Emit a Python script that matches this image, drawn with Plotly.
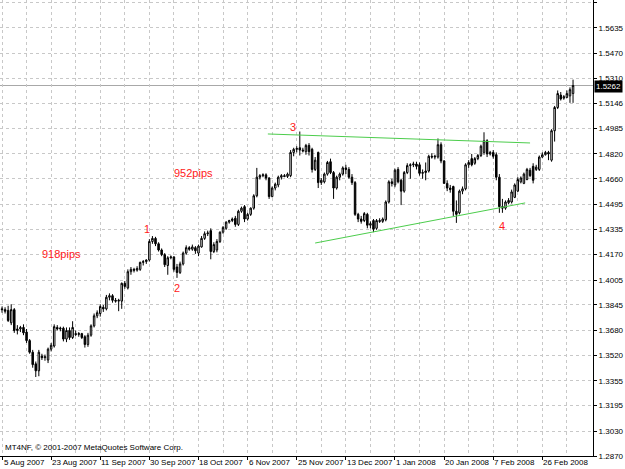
import plotly.graph_objects as go

# ---------------- data ----------------
opens = [1.3820,1.3815,1.3810,1.3730,1.3815,1.3680,1.3690,1.3700,1.3670,1.3615,
         1.3540,1.3465,1.3420,1.3515,1.3505,1.3490,1.3560,1.3580,1.3700,1.3690,
         1.3695,1.3625,1.3680,1.3635,1.3660,1.3655,1.3660,1.3640,1.3590,1.3650,
         1.3710,1.3775,1.3790,1.3830,1.3820,1.3895,1.3905,1.3875,1.3870,1.3870,
         1.3985,1.3955,1.4060,1.4075,1.4070,1.4075,1.4120,1.4125,1.4135,1.4255,
         1.4275,1.4240,1.4200,1.4170,1.4100,1.4150,1.4155,1.4090,1.4055,1.4110,
         1.4180,1.4215,1.4205,1.4215,1.4180,1.4220,1.4275,1.4305,1.4325,1.4190,
         1.4200,1.4255,1.4315,1.4340,1.4380,1.4390,1.4405,1.4365,1.4450,1.4480,
         1.4400,1.4430,1.4470,1.4550,1.4670,1.4680,1.4685,1.4665,1.4545,1.4600,
         1.4620,1.4670,1.4680,1.4675,1.4680,1.4830,1.4850,1.4860,1.4845,1.4835,
         1.4875,1.4850,1.4720,1.4830,1.4635,1.4640,1.4690,1.4770,1.4700,1.4600,
         1.4670,1.4690,1.4730,1.4720,1.4670,1.4635,1.4430,1.4400,1.4390,1.4430,
         1.4360,1.4390,1.4340,1.4390,1.4385,1.4395,1.4510,1.4640,1.4620,1.4720,
         1.4650,1.4580,1.4700,1.4745,1.4750,1.4755,1.4750,1.4695,1.4700,1.4710,
         1.4805,1.4800,1.4800,1.4880,1.4775,1.4630,1.4600,1.4610,1.4450,1.4440,
         1.4580,1.4595,1.4750,1.4790,1.4760,1.4790,1.4810,1.4830,1.4905,1.4820,
         1.4830,1.4815,1.4670,1.4480,1.4470,1.4505,1.4510,1.4540,1.4580,1.4640,
         1.4630,1.4655,1.4715,1.4740,1.4720,1.4720,1.4800,1.4815,1.4830,1.4780,
         1.4970,1.5120,1.5200,1.5180,1.5185,1.5195,1.5210]
highs = [1.3835,1.3830,1.3840,1.3850,1.3825,1.3715,1.3710,1.3720,1.3690,1.3625,
         1.3555,1.3480,1.3555,1.3530,1.3525,1.3570,1.3600,1.3720,1.3715,1.3705,
         1.3705,1.3700,1.3700,1.3740,1.3680,1.3670,1.3665,1.3650,1.3665,1.3720,
         1.3790,1.3810,1.3850,1.3845,1.3910,1.3920,1.3915,1.3890,1.3885,1.3990,
         1.4000,1.4075,1.4090,1.4085,1.4095,1.4125,1.4135,1.4140,1.4270,1.4290,
         1.4285,1.4250,1.4210,1.4180,1.4160,1.4165,1.4160,1.4110,1.4125,1.4190,
         1.4230,1.4225,1.4235,1.4225,1.4235,1.4290,1.4320,1.4325,1.4340,1.4250,
         1.4270,1.4320,1.4355,1.4385,1.4395,1.4410,1.4420,1.4460,1.4480,1.4490,
         1.4440,1.4475,1.4560,1.4730,1.4690,1.4695,1.4695,1.4670,1.4610,1.4635,
         1.4680,1.4690,1.4690,1.4700,1.4845,1.4860,1.4870,1.4965,1.4860,1.4885,
         1.4890,1.4860,1.4800,1.4835,1.4665,1.4700,1.4775,1.4790,1.4710,1.4680,
         1.4700,1.4740,1.4750,1.4735,1.4690,1.4645,1.4440,1.4420,1.4445,1.4440,
         1.4385,1.4400,1.4400,1.4405,1.4410,1.4520,1.4650,1.4660,1.4725,1.4735,
         1.4660,1.4710,1.4760,1.4760,1.4770,1.4770,1.4765,1.4720,1.4765,1.4815,
         1.4825,1.4815,1.4920,1.4895,1.4780,1.4650,1.4620,1.4615,1.4520,1.4590,
         1.4610,1.4760,1.4780,1.4820,1.4800,1.4820,1.4880,1.4960,1.4915,1.4840,
         1.4845,1.4830,1.4690,1.4530,1.4520,1.4535,1.4590,1.4630,1.4670,1.4675,
         1.4700,1.4730,1.4730,1.4760,1.4750,1.4810,1.4830,1.4840,1.4840,1.4980,
         1.5130,1.5230,1.5220,1.5200,1.5230,1.5250,1.5300]
lows = [1.3795,1.3790,1.3735,1.3715,1.3665,1.3655,1.3670,1.3650,1.3600,1.3530,
        1.3440,1.3380,1.3385,1.3490,1.3485,1.3470,1.3545,1.3570,1.3680,1.3675,
        1.3610,1.3605,1.3620,1.3625,1.3645,1.3640,1.3625,1.3570,1.3575,1.3640,
        1.3700,1.3760,1.3770,1.3800,1.3810,1.3875,1.3860,1.3860,1.3805,1.3820,
        1.3950,1.3945,1.4040,1.4055,1.4060,1.4065,1.4100,1.4110,1.4125,1.4240,
        1.4225,1.4190,1.4160,1.4090,1.4040,1.4140,1.4060,1.4020,1.4045,1.4100,
        1.4170,1.4195,1.4195,1.4175,1.4160,1.4215,1.4265,1.4290,1.4140,1.4180,
        1.4185,1.4245,1.4305,1.4330,1.4370,1.4380,1.4350,1.4355,1.4440,1.4380,
        1.4390,1.4420,1.4460,1.4540,1.4655,1.4670,1.4650,1.4530,1.4540,1.4585,
        1.4605,1.4655,1.4670,1.4665,1.4670,1.4805,1.4830,1.4810,1.4830,1.4815,
        1.4810,1.4700,1.4710,1.4600,1.4620,1.4630,1.4680,1.4690,1.4530,1.4590,
        1.4650,1.4680,1.4690,1.4660,1.4620,1.4420,1.4380,1.4370,1.4380,1.4340,
        1.4340,1.4315,1.4330,1.4375,1.4375,1.4385,1.4500,1.4610,1.4605,1.4630,
        1.4490,1.4570,1.4690,1.4660,1.4735,1.4720,1.4680,1.4660,1.4650,1.4700,
        1.4790,1.4785,1.4790,1.4760,1.4630,1.4580,1.4570,1.4420,1.4375,1.4430,
        1.4560,1.4585,1.4730,1.4740,1.4750,1.4780,1.4800,1.4815,1.4800,1.4810,
        1.4790,1.4650,1.4440,1.4440,1.4460,1.4495,1.4500,1.4535,1.4575,1.4630,
        1.4625,1.4650,1.4670,1.4630,1.4710,1.4710,1.4795,1.4810,1.4780,1.4770,
        1.4900,1.5110,1.5165,1.5170,1.5180,1.5150,1.5150]
closes = [1.3815,1.3805,1.3745,1.3815,1.3680,1.3690,1.3700,1.3665,1.3615,1.3540,
          1.3460,1.3420,1.3540,1.3505,1.3510,1.3560,1.3585,1.3705,1.3690,1.3695,
          1.3625,1.3680,1.3635,1.3700,1.3655,1.3660,1.3635,1.3590,1.3650,1.3710,
          1.3775,1.3795,1.3835,1.3820,1.3895,1.3905,1.3875,1.3870,1.3875,1.3985,
          1.3965,1.4060,1.4075,1.4070,1.4080,1.4120,1.4125,1.4135,1.4255,1.4275,
          1.4240,1.4200,1.4170,1.4105,1.4150,1.4155,1.4075,1.4055,1.4110,1.4180,
          1.4215,1.4205,1.4220,1.4195,1.4225,1.4275,1.4305,1.4310,1.4190,1.4235,
          1.4255,1.4315,1.4345,1.4380,1.4390,1.4400,1.4365,1.4450,1.4470,1.4400,
          1.4430,1.4470,1.4550,1.4670,1.4680,1.4685,1.4665,1.4545,1.4600,1.4625,
          1.4670,1.4680,1.4675,1.4690,1.4830,1.4850,1.4855,1.4845,1.4840,1.4875,
          1.4835,1.4720,1.4780,1.4635,1.4650,1.4690,1.4765,1.4700,1.4600,1.4670,
          1.4690,1.4730,1.4720,1.4670,1.4635,1.4430,1.4400,1.4385,1.4435,1.4360,
          1.4370,1.4335,1.4390,1.4385,1.4400,1.4510,1.4640,1.4630,1.4715,1.4640,
          1.4580,1.4700,1.4745,1.4750,1.4755,1.4740,1.4695,1.4700,1.4710,1.4805,
          1.4800,1.4805,1.4880,1.4775,1.4630,1.4600,1.4590,1.4450,1.4430,1.4580,
          1.4595,1.4750,1.4765,1.4750,1.4790,1.4810,1.4870,1.4905,1.4820,1.4830,
          1.4805,1.4670,1.4480,1.4470,1.4510,1.4520,1.4575,1.4620,1.4655,1.4665,
          1.4690,1.4720,1.4680,1.4650,1.4735,1.4800,1.4815,1.4830,1.4820,1.4970,
          1.5120,1.5210,1.5175,1.5190,1.5210,1.5235,1.5262]

date_labels = ["5 Aug 2007", "23 Aug 2007", "11 Sep 2007", "30 Sep 2007",
               "18 Oct 2007", "6 Nov 2007", "25 Nov 2007", "13 Dec 2007",
               "1 Jan 2008", "20 Jan 2008", "7 Feb 2008", "26 Feb 2008"]
date_label_bars = [0, 16, 32, 48, 64, 80, 96, 112, 128, 144, 160, 176]

price_ticks = [1.5795, 1.5635, 1.5470, 1.5310, 1.5146, 1.4985, 1.4820, 1.4660,
               1.4495, 1.4335, 1.4170, 1.4005, 1.3845, 1.3680, 1.3520, 1.3355,
               1.3195, 1.3030, 1.2870]
price_tick_text = ["%.4f" % v for v in price_ticks]

last_price = 1.5262

# trend lines (bar index, price)
upper_line_x = [86.6, 172.0]
upper_line_y = [1.4949, 1.4891]
lower_line_x = [102.0, 170.4]
lower_line_y = [1.4245, 1.4504]

# marks: (bar index, price, text)
mark_x = [19.5, 62.5, 47.2, 57.0, 94.8, 162.9]
mark_y = [1.4174, 1.4697, 1.4336, 1.3955, 1.4994, 1.4355]
mark_text = ["918pips", "952pips", "1", "2", "3", "4"]

bars = list(range(len(closes)))

# ---------------- figure ----------------
FONT = "Liberation Sans"
AXFONT = 8
fig = go.Figure()

fig.add_trace(go.Candlestick(
    x=bars, open=opens, high=highs, low=lows, close=closes,
    increasing=dict(fillcolor="white", line=dict(color="#000000", width=1)),
    decreasing=dict(fillcolor="#000000", line=dict(color="#000000", width=1)),
    whiskerwidth=0, showlegend=False, hoverinfo="skip",
))

fig.add_trace(go.Scatter(x=upper_line_x, y=upper_line_y, mode="lines",
                         line=dict(color="#4ccd4c", width=1), showlegend=False,
                         hoverinfo="skip"))
fig.add_trace(go.Scatter(x=lower_line_x, y=lower_line_y, mode="lines",
                         line=dict(color="#4ccd4c", width=1), showlegend=False,
                         hoverinfo="skip"))

# current price line
fig.add_shape(type="line", xref="paper", x0=0, x1=1, yref="y",
              y0=last_price, y1=last_price, line=dict(color="#a8a8a8", width=1),
              layer="below")
fig.add_annotation(xref="paper", x=1, y=last_price, yref="y",
                   text="%.4f" % last_price, showarrow=False,
                   xanchor="left", xshift=1, yshift=-1, bgcolor="#000000",
                   font=dict(family=FONT, size=AXFONT, color="white"),
                   borderpad=1)

for mx, my, mt in zip(mark_x, mark_y, mark_text):
    fig.add_annotation(x=mx, y=my, text=mt, showarrow=False,
                       font=dict(family=FONT, size=11, color="#ff2020"))

# date labels, left-aligned at their tick like the original
for bx, lbl in zip(date_label_bars, date_labels):
    fig.add_annotation(x=bx, xref="x", y=0, yref="paper", text=lbl,
                       showarrow=False, xanchor="left", yanchor="top",
                       xshift=-1 if bx else 0, yshift=0,
                       font=dict(family=FONT, size=AXFONT, color="black"))

fig.add_annotation(xref="paper", yref="paper", x=0, y=0, xanchor="left",
                   yanchor="bottom", xshift=3, yshift=2,
                   text="MT4NF, \u00a9 2001-2007 MetaQuotes Software Corp.",
                   showarrow=False, font=dict(family=FONT, size=AXFONT, color="black"))

grid = dict(gridcolor="#c8c8c8", griddash="3px,3px", gridwidth=1)

fig.update_layout(
    width=625, height=469,
    margin=dict(l=0, r=32, t=0, b=13, autoexpand=False),
    paper_bgcolor="white", plot_bgcolor="white",
    font=dict(family=FONT, size=AXFONT, color="black"),
    xaxis=dict(range=[-0.65, 192.5], rangeslider=dict(visible=False),
               tickmode="array", tickvals=date_label_bars, showticklabels=False,
               ticks="outside", ticklen=3, automargin=False,
               tickcolor="black", showline=True, linecolor="black", linewidth=1,
               zeroline=False, showgrid=True, **grid,
               minor=dict(tickmode="linear", tick0=8, dtick=16, showgrid=True,
                          ticks="", **grid),
               fixedrange=True),
    yaxis=dict(side="right", range=[1.2870, 1.5814], tickmode="array",
               tickvals=price_ticks, ticktext=price_tick_text, ticks="outside",
               ticklen=3, tickcolor="black", showline=True, linecolor="black",
               linewidth=1, zeroline=False, showgrid=True, **grid, automargin=False,
               tickfont=dict(family=FONT, size=AXFONT, color="black"), fixedrange=True),
)

fig.write_html("out.html")
